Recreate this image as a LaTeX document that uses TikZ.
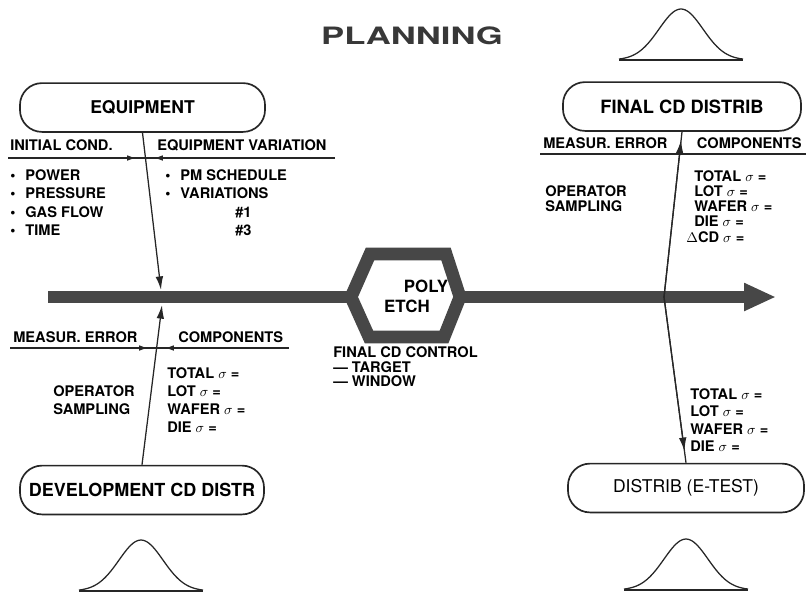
\documentclass[tikz,border=0pt]{standalone}
\usepackage{fontspec}
\usepackage{graphicx}
\setmainfont{TeX Gyre Heros}
\usepackage{tikz}
\usetikzlibrary{arrows.meta, positioning, calc}
\newcommand{\itm}{\makebox[0.38cm][l]{\textbullet}}

\begin{document}
\begin{tikzpicture}[
    x=0.025cm, y=-0.025cm,
    box/.style={draw=black!85, line width=1.2pt, rounded corners=0.55cm, minimum height=1.22cm, inner sep=0pt, font=\fontsize{12.5}{15}\selectfont\bfseries},
    lbl/.style={inner sep=0pt, align=left, font=\fontsize{10.4}{13}\selectfont\bfseries},
    tight/.style={font=\fontsize{10.4}{10.7}\selectfont\bfseries},
    conn/.style={draw=black!85, line width=0.9pt},
    arr/.style={-{Latex[length=3.4mm, width=1.9mm]}},
    small arr/.style={-{Latex[length=2.2mm, width=1.4mm]}},
    flow/.style={draw=black!72, line width=0.32cm},
    bell/.style={draw=black!85, line width=0.9pt}
]
    \useasboundingbox (0,0) rectangle (806,595);

    \node[font=\fontsize{17}{20}\selectfont\bfseries, text=black!78] (plan) at (412,36) {\scalebox{1.45}[1]{PLANNING}};

    % process line with the etch step
    \coordinate (barS) at (48,297);
    \coordinate (hexL) at (351,297);
    \coordinate (hexR) at (460,297);
    \coordinate (barE) at (776,297);
    \draw[flow] (barS) -- (hexL);
    \draw[flow, -{Triangle[length=0.8cm, width=0.65cm]}] (hexR) -- (barE);
    \draw[flow, fill=white, line join=miter] (hexL) -- (370,254) -- (446,254) -- (hexR) -- (444,337) -- (369,337) -- cycle;
    \node[font=\fontsize{12}{14}\selectfont\bfseries, inner sep=0pt] (poly) at (426,286) {POLY};
    \node[font=\fontsize{12}{14}\selectfont\bfseries, inner sep=0pt] (etch) at (407,306) {ETCH};
    \node[lbl, font=\fontsize{10.4}{10.3}\selectfont\bfseries, anchor=north west] (ctrl) at (333,346.7) {FINAL CD CONTROL\\--- TARGET\\--- WINDOW};

    % boxes
    \node[box, minimum width=6.125cm] (equip) at (142.5,107.5) {EQUIPMENT};
    \node[box, minimum width=5.95cm, font=\fontsize{13}{15}\selectfont\bfseries] (fcd) at (682,106.5) {FINAL CD DISTRIB};
    \node[box, minimum width=6.1cm, font=\fontsize{12.8}{15}\selectfont\bfseries] (dev) at (142,490) {DEVELOPMENT CD DISTR};
    \node[box, minimum width=5.9cm, font=\fontsize{12.5}{15}\selectfont] (etest) at (686,488) {DISTRIB (E-TEST)};

    % equipment inputs
    \node[lbl, anchor=west] (init) at (10,145) {INITIAL COND.};
    \node[lbl, anchor=west] (eqvar) at (157,145) {EQUIPMENT VARIATION};
    \node[lbl, anchor=north west] (cond) at (10,169.5) {\itm POWER\\ \itm PRESSURE\\ \itm GAS FLOW\\ \itm TIME};
    \node[lbl, anchor=north west] (eqlist) at (165,169.5) {\itm PM SCHEDULE\\ \itm VARIATIONS\\ \hspace*{1.75cm}\#1\\ \hspace*{1.75cm}\#3};
    \coordinate (ulA) at (8,158);
    \coordinate (ulB) at (335,158);
    \coordinate (tlA) at (136,158);
    \coordinate (tlB) at (154,158);
    \draw[conn] (ulA) -- (ulB);
    \draw[conn, small arr] (ulA) -- (tlA);
    \draw[conn, small arr] (ulB) -- (tlB);

    % development distribution
    \node[lbl, anchor=west] (merrL) at (13,337) {MEASUR. ERROR};
    \node[lbl, anchor=west] (compL) at (178,337) {COMPONENTS};
    \node[lbl, font=\fontsize{10.4}{12.4}\selectfont\bfseries, anchor=north west] (sampL) at (53,385.7) {OPERATOR\\SAMPLING};
    \node[lbl, font=\fontsize{10.4}{12.8}\selectfont\bfseries, anchor=north west] (sigL) at (167,367.7) {TOTAL $\sigma$ =\\LOT $\sigma$ =\\WAFER $\sigma$ =\\DIE $\sigma$ =};
    \coordinate (llA) at (10,348);
    \coordinate (llB) at (289,348);
    \coordinate (blA) at (148,348);
    \coordinate (blB) at (165,348);
    \draw[conn] (llA) -- (llB);
    \draw[conn, small arr] (llA) -- (blA);
    \draw[conn, small arr] (llB) -- (blB);

    % final distribution
    \node[lbl, anchor=west] (merrR) at (543,143) {MEASUR. ERROR};
    \node[lbl, anchor=east] (compR) at (802,143) {COMPONENTS};
    \node[lbl, tight, anchor=north west] (sampR) at (545,185.7) {OPERATOR\\SAMPLING};
    \node[lbl, tight, anchor=north west] (sigR) at (694,170.7) {TOTAL $\sigma$ =\\LOT $\sigma$ =\\WAFER $\sigma$ =\\DIE $\sigma$ =\\ \hspace*{-0.2cm}$\Delta$CD $\sigma$ =};
    \coordinate (rlA) at (540,154);
    \coordinate (rlB) at (806,154);
    \draw[conn] (rlA) -- (rlB);

    % e-test distribution
    \node[lbl, font=\fontsize{10.4}{12.4}\selectfont\bfseries, anchor=north west] (sigE) at (690,388) {TOTAL $\sigma$ =\\LOT $\sigma$ =\\WAFER $\sigma$ =\\DIE $\sigma$ =};

    % connectors
    \coordinate (barT) at (161,290);
    \coordinate (barB) at (162,305);
    \coordinate (xr) at (664,297);
    \draw[conn, arr] (equip.south) -- (barT);
    \draw[conn, arr] (dev.north) -- (barB);
    \draw[conn] (xr) -- (fcd.south);
    \draw[conn, arr] (xr) -- ($(xr)!0.95!(fcd.south)$);
    \draw[conn] (xr) -- (etest.north);
    \draw[conn, arr] (xr) -- ($(xr)!0.93!(etest.north)$);

    % distribution curves
    \foreach \bx/\by in {681/60, 141/591, 686/590} {
        \draw[bell] (\bx-62,\by) -- (\bx+62,\by);
        \draw[bell] plot[domain=-62:62, samples=63, smooth] ({\bx+\x}, {\by-51*exp(-0.5*(\x/22)^2)});
    }
\end{tikzpicture}
\end{document}
